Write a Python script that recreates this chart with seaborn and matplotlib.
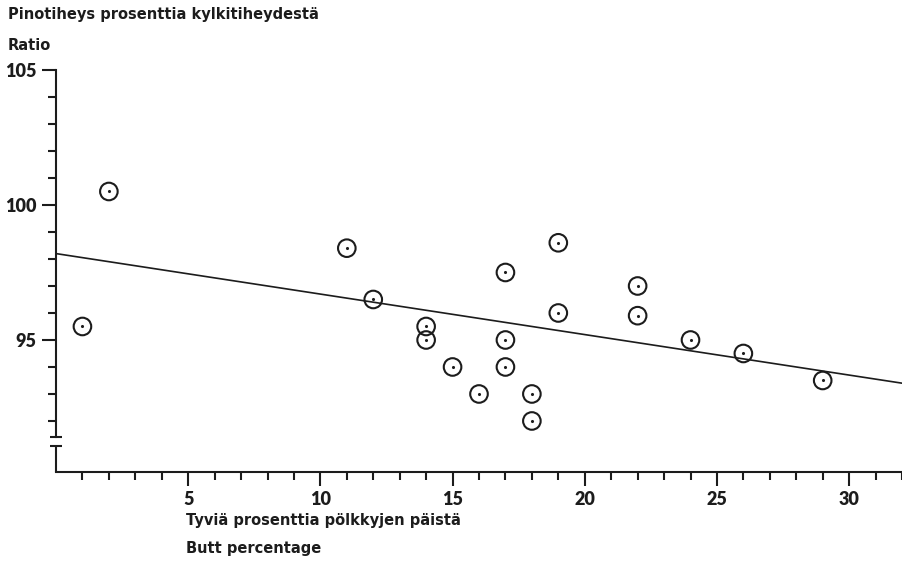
import matplotlib
matplotlib.use("Agg")
import matplotlib.pyplot as plt
import matplotlib.transforms as mtransforms
import pandas as pd
import seaborn as sns

# Butt percentage of the logs (%) and stacking ratio (%) for each sample lot
butt_pct = [1, 2, 11, 12, 14, 14, 15, 16, 17, 17, 17, 18, 18, 19, 19, 22, 22, 24, 26, 29]
ratio = [95.5, 100.5, 98.4, 96.5, 95.5, 95.0, 94.0, 93.0, 97.5, 95.0, 94.0, 93.0, 92.0,
         98.6, 96.0, 97.0, 95.9, 95.0, 94.5, 93.5]

# End points of the fitted trend line
trend_x = [0, 32]
trend_y = [98.2, 93.4]

x_major = [5, 10, 15, 20, 25, 30]
x_minor = [v for v in range(1, 33) if v % 5]
y_major = [95, 100, 105]
y_minor = [v for v in range(92, 105) if v % 5]

y_title_fi = "Pinotiheys prosenttia kylkitiheydestä"
y_title_en = "Ratio"
x_title_fi = "Tyviä prosenttia pölkkyjen päistä"
x_title_en = "Butt percentage"

INK = "#1c1c1c"
TICK_FONT = ["Lato", "DejaVu Sans"]
TITLE_FONT = ["DejaVu Sans"]

sns.set_style("ticks")
plt.rcParams["font.family"] = TICK_FONT

W, H = 902, 563
fig = plt.figure(figsize=(W / 100, H / 100), dpi=100)
fig.patch.set_facecolor("white")
ax = fig.add_axes([56 / W, 91 / H, 846 / W, 402 / H])
ax.set_facecolor("white")

ymin, ymax = 90.11, 105
ax.set_xlim(0, 32)
ax.set_ylim(ymin, ymax)

points = pd.DataFrame({"butt": butt_pct, "ratio": ratio})
trend = pd.DataFrame({"butt": trend_x, "ratio": trend_y})

sns.lineplot(data=trend, x="butt", y="ratio", ax=ax, color=INK, lw=1.2)
sns.scatterplot(data=points, x="butt", y="ratio", ax=ax, s=160, marker="o",
                facecolor="none", edgecolor=INK, linewidth=1.5, zorder=3)
sns.scatterplot(data=points, x="butt", y="ratio", ax=ax, s=5, marker="o",
                color=INK, linewidth=0, zorder=4)
ax.set_xlabel("")
ax.set_ylabel("")

# Axes: broken y axis, no frame on top/right
for side in ("top", "right"):
    ax.spines[side].set_visible(False)
for side in ("left", "bottom"):
    ax.spines[side].set_color(INK)
    ax.spines[side].set_linewidth(1.5)

y_break_hi = ymin + 35 / 27.0
y_break_lo = ymin + 26 / 27.0
ax.spines["left"].set_bounds(y_break_hi, ymax)
trans = mtransforms.blended_transform_factory(ax.transAxes, ax.transData)
ax.plot([0, 0], [ymin, y_break_lo], transform=trans, color=INK, lw=1.5,
        clip_on=False, solid_capstyle="butt")
for yb in (y_break_hi, y_break_lo):
    ax.plot([-0.0075, 0.0075], [yb, yb], transform=trans, color=INK, lw=1.5,
            clip_on=False, solid_capstyle="butt")

ax.set_xticks(x_major)
ax.set_xticks(x_minor, minor=True)
ax.set_yticks(y_major)
ax.set_yticks(y_minor, minor=True)
ax.tick_params(axis="both", which="major", length=10, width=1.5, color=INK,
               labelcolor=INK, labelsize=13, direction="out")
ax.tick_params(axis="both", which="minor", length=6, width=1.5, color=INK,
               direction="out")
ax.tick_params(axis="x", which="major", pad=4)
ax.tick_params(axis="y", which="major", pad=4)
for lab in ax.get_xticklabels() + ax.get_yticklabels():
    lab.set_fontweight("heavy")

title_kw = dict(color=INK, fontsize=10.5, fontweight="bold", ha="left",
                va="center", family=TITLE_FONT)
fig.text(8 / W, 1 - 14 / H, y_title_fi, **title_kw)
fig.text(8 / W, 1 - 45 / H, y_title_en, **title_kw)
fig.text(186 / W, 1 - 521 / H, x_title_fi, **title_kw)
fig.text(186 / W, 1 - 549 / H, x_title_en, **title_kw)

fig.savefig("out.png", dpi=100, facecolor="white")
